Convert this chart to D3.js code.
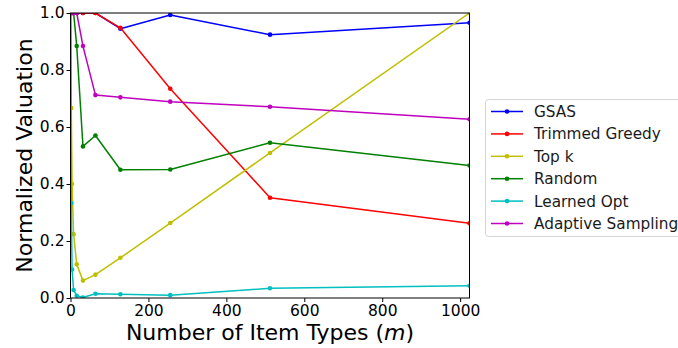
<!DOCTYPE html>
<html>
<head>
<meta charset="utf-8">
<script src="https://cdn.jsdelivr.net/npm/d3@7"></script>
<style>
  body { margin: 0; background: #fff; }
  svg { display: block; font-family: "DejaVu Sans", sans-serif; }
</style>
</head>
<body>
<div id="chart"></div>
<script>
// number of item types on the x axis
const mValues = [1, 2, 4, 8, 16, 32, 64, 128, 256, 512, 1024]

const gsas = [1, 1, 1, 1, 1, 1, 1, 0.945, 0.993, 0.924, 0.966]
const trimmedGreedy = [1, 1, 1, 1, 1, 1, 1, 0.948, 0.734, 0.352, 0.262]
const topK = [1, 0.667, 0.4, 0.224, 0.118, 0.061, 0.082, 0.141, 0.263, 0.509, 1]
const random = [1, 1, 1, 1, 0.884, 0.532, 0.57, 0.45, 0.451, 0.545, 0.465]
const learnedOpt = [1, 0.333, 0.1, 0.028, 0.008, 0.002, 0.015, 0.013, 0.01, 0.034, 0.043]
const adaptiveSampling = [1, 1, 1, 1, 1, 0.884, 0.712, 0.704, 0.689, 0.671, 0.627]

const seriesNames = ['GSAS', 'Trimmed Greedy', 'Top k', 'Random', 'Learned Opt', 'Adaptive Sampling']
const seriesColors = ['#0000ff', '#ff0000', '#bfbf00', '#008000', '#00bfbf', '#bf00bf']
const seriesValues = [gsas, trimmedGreedy, topK, random, learnedOpt, adaptiveSampling]

const xTicks = [0, 200, 400, 600, 800, 1000]
const yTicks = [0, 0.2, 0.4, 0.6, 0.8, 1.0]

const width = 678
const height = 348
const plot = { left: 70.5, top: 13, right: 469.5, bottom: 298 }

const xScale = d3.scaleLinear().domain([0, 1024]).range([plot.left, plot.right])
const yScale = d3.scaleLinear().domain([0, 1]).range([plot.bottom, plot.top])

const svg = d3.select('#chart').append('svg')
  .attr('width', width)
  .attr('height', height)

svg.append('defs').append('clipPath')
  .attr('id', 'plot-clip')
  .append('rect')
  .attr('x', plot.left)
  .attr('y', plot.top)
  .attr('width', plot.right - plot.left)
  .attr('height', plot.bottom - plot.top)

// axes
const xAxis = svg.append('g')
  .attr('transform', 'translate(0,' + plot.bottom + ')')
  .call(d3.axisBottom(xScale).tickValues(xTicks).tickSize(4).tickPadding(3).tickFormat(d3.format('d')))
const yAxis = svg.append('g')
  .attr('transform', 'translate(' + plot.left + ',0)')
  .call(d3.axisLeft(yScale).tickValues(yTicks).tickSize(4).tickPadding(2).tickFormat(d3.format('.1f')))

;[xAxis, yAxis].forEach(function(axis) {
  axis.select('.domain').remove()
  axis.selectAll('.tick line').attr('stroke', '#000').attr('stroke-width', 1)
  axis.selectAll('.tick text')
    .attr('fill', '#000')
    .style('font-size', '15.5px')
    .style('font-family', '"DejaVu Sans", sans-serif')
})

// series lines
const lines = svg.append('g').attr('clip-path', 'url(#plot-clip)')
const lineGen = d3.line()
  .x(function(d) { return xScale(d[0]) })
  .y(function(d) { return yScale(d[1]) })

seriesValues.forEach(function(values, i) {
  const pts = values.map(function(v, j) { return [mValues[j], v] })
  lines.append('path')
    .datum(pts)
    .attr('fill', 'none')
    .attr('stroke', seriesColors[i])
    .attr('stroke-width', 1.5)
    .attr('stroke-linejoin', 'round')
    .attr('d', lineGen)
  lines.selectAll(null)
    .data(pts)
    .enter()
    .append('circle')
    .attr('cx', function(d) { return xScale(d[0]) })
    .attr('cy', function(d) { return yScale(d[1]) })
    .attr('r', 2.3)
    .attr('fill', seriesColors[i])
})

// frame
svg.append('rect')
  .attr('x', plot.left)
  .attr('y', plot.top)
  .attr('width', plot.right - plot.left)
  .attr('height', plot.bottom - plot.top)
  .attr('fill', 'none')
  .attr('stroke', '#000')
  .attr('stroke-width', 1)

// axis titles
const xTitle = svg.append('text')
  .attr('x', (plot.left + plot.right) / 2)
  .attr('y', 340)
  .attr('text-anchor', 'middle')
  .style('font-size', '22px')
  .attr('fill', '#000')
xTitle.append('tspan').text('Number of Item Types (')
xTitle.append('tspan').style('font-style', 'italic').text('m')
xTitle.append('tspan').text(')')

svg.append('text')
  .attr('transform', 'translate(32,' + ((plot.top + plot.bottom) / 2) + ') rotate(-90)')
  .attr('text-anchor', 'middle')
  .style('font-size', '22px')
  .attr('fill', '#000')
  .text('Normalized Valuation')

// legend
const legend = svg.append('g')
legend.append('rect')
  .attr('x', 485.5)
  .attr('y', 99.5)
  .attr('width', 200)
  .attr('height', 137)
  .attr('rx', 3)
  .attr('fill', '#fff')
  .attr('stroke', '#d6d6d6')
  .attr('stroke-width', 1)

seriesNames.forEach(function(name, i) {
  const y = 111.5 + i * 22.4
  legend.append('line')
    .attr('x1', 491).attr('x2', 523)
    .attr('y1', y).attr('y2', y)
    .attr('stroke', seriesColors[i])
    .attr('stroke-width', 1.5)
  legend.append('circle')
    .attr('cx', 507).attr('cy', y).attr('r', 2.3)
    .attr('fill', seriesColors[i])
  legend.append('text')
    .attr('x', 534)
    .attr('y', y + 5.5)
    .style('font-size', '15.3px')
    .attr('fill', '#1a1a1a')
    .text(name)
})
</script>
</body>
</html>
